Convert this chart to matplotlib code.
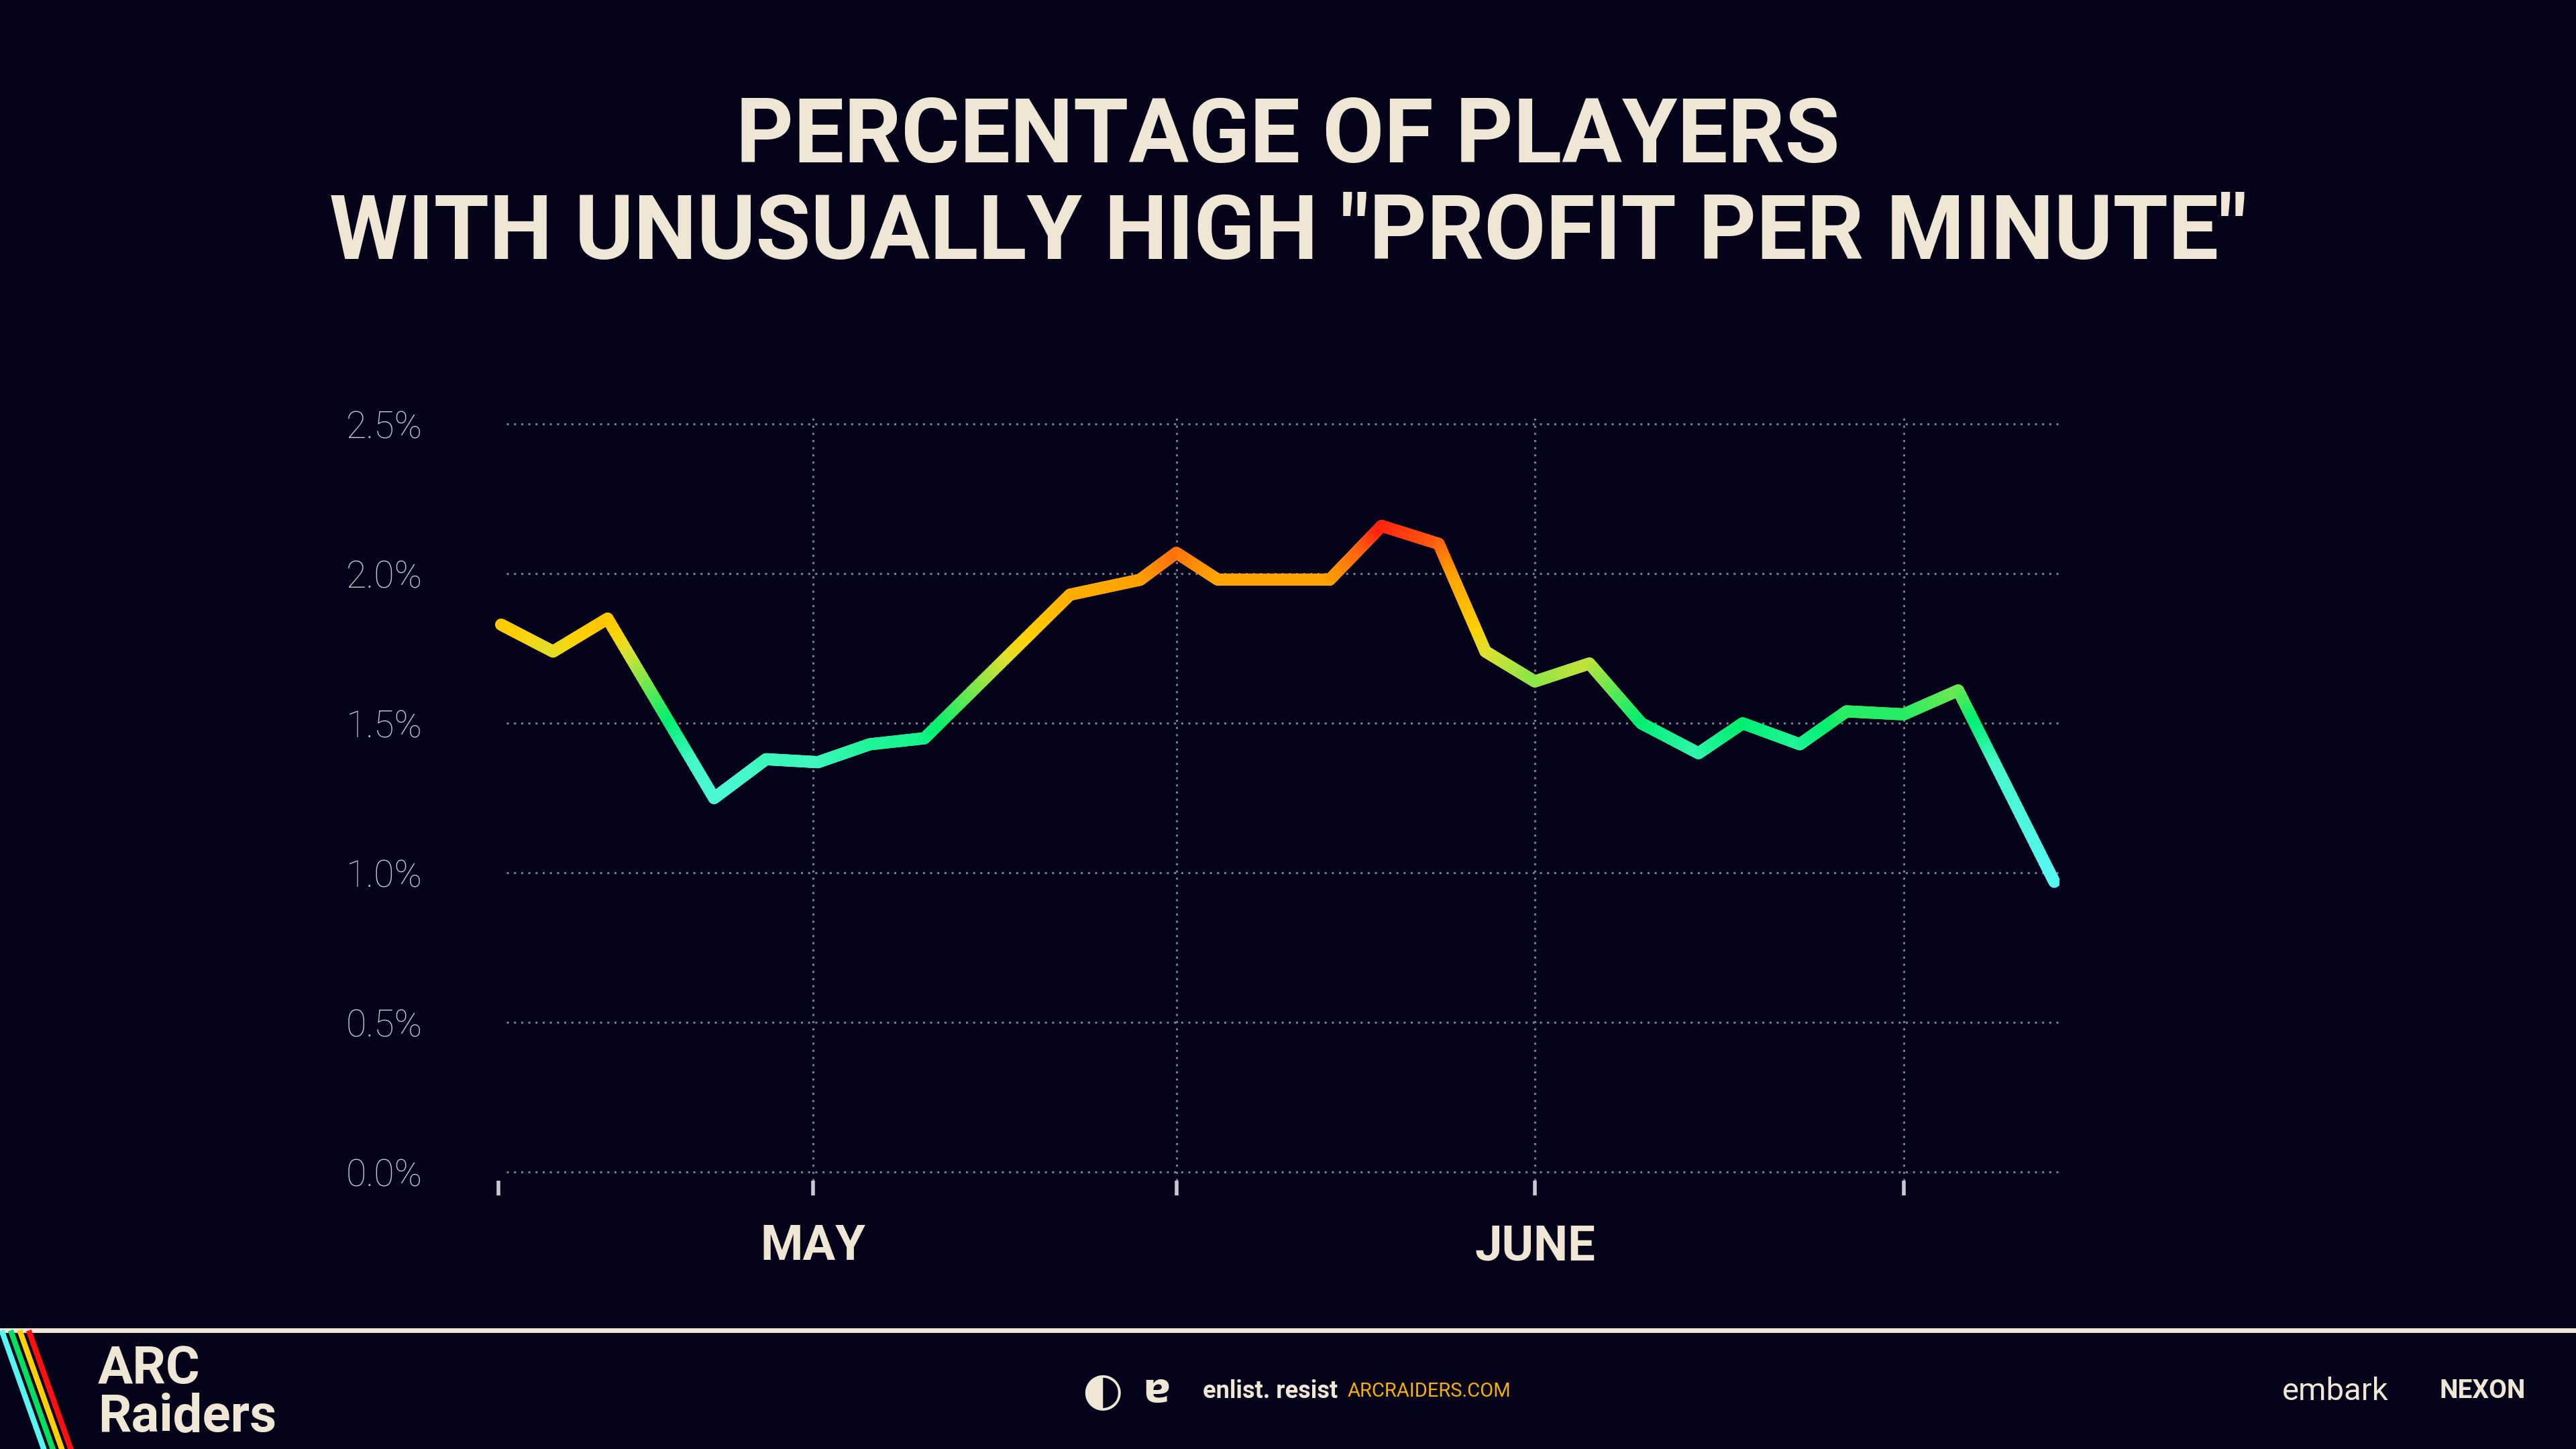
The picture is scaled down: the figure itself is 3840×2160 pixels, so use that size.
import numpy as np
import matplotlib
matplotlib.use("Agg")
import matplotlib.pyplot as plt
from matplotlib.collections import LineCollection
from matplotlib.colors import LinearSegmentedColormap

BG = "#05031a"
CREAM = "#efe6d6"
GRID = "#7d7d8c"

# day offsets from start of series and percentage values
days = [0.0, 1.0, 2.05, 4.1, 5.1, 6.1, 7.1, 8.15, 10.95, 12.3, 13.0, 13.8, 15.95,
        16.95, 18.05, 18.95, 19.9, 20.95, 21.95, 23.05, 23.9, 25.0, 25.9, 27.0, 28.05, 29.9]
values = [1.83, 1.74, 1.85, 1.25, 1.38, 1.37, 1.43, 1.45, 1.93, 1.98, 2.07, 1.98, 1.98,
          2.16, 2.10, 1.74, 1.64, 1.70, 1.50, 1.40, 1.50, 1.43, 1.54, 1.53, 1.61, 0.97]
tick_days = [-0.05, 6.0, 13.0, 19.9, 27.0]
month_labels = {6.0: "MAY", 19.9: "JUNE"}
y_ticks = [0.0, 0.5, 1.0, 1.5, 2.0, 2.5]

fam = ["Roboto", "DejaVu Sans"]

fig = plt.figure(figsize=(38.4, 21.6), dpi=100, facecolor=BG)
ax = fig.add_axes([0.1915, 0.185, 0.608, 0.547], facecolor=BG)

# gradient line coloured by value
cmap = LinearSegmentedColormap.from_list("heat", [
    (0.0, "#55f7f0"), (0.30, "#45f8c8"), (0.42, "#00f070"),
    (0.62, "#e0e030"), (0.68, "#ffd000"), (0.84, "#ffa000"),
    (0.93, "#ff6010"), (1.0, "#ff1010")])
xs, ys = [], []
for i in range(len(days) - 1):
    t = np.linspace(0, 1, 40, endpoint=False)
    xs.extend(days[i] + (days[i + 1] - days[i]) * t)
    ys.extend(values[i] + (values[i + 1] - values[i]) * t)
xs.append(days[-1]); ys.append(values[-1])
xs, ys = np.array(xs), np.array(ys)
pts = np.column_stack([xs, ys]).reshape(-1, 1, 2)
segs = np.concatenate([pts[:-1], pts[1:]], axis=1)
lc = LineCollection(segs, cmap=cmap, norm=plt.Normalize(1.0, 2.18),
                    linewidth=13, capstyle="round", joinstyle="round", zorder=3)
lc.set_array((ys[:-1] + ys[1:]) / 2)
ax.add_collection(lc)

ax.set_xlim(-0.15, 30.0)
ax.set_ylim(-0.03, 2.62)
for y in y_ticks:
    ax.plot([0.1, 30.0], [y, y], color=GRID, lw=2.2, ls=(0, (1, 2.5)), zorder=1)
for d in tick_days[1:]:
    ax.plot([d, d], [-0.03, 2.52], color=GRID, lw=2.2, ls=(0, (1, 2.5)), zorder=1)

ax.set_yticks(y_ticks)
ax.set_yticklabels([f"{y:.1f}%" for y in y_ticks], color="#c4c4cc", fontsize=40,
                   family=fam, fontweight="light")
ax.tick_params(axis="y", length=0, pad=158)
for lab in ax.get_yticklabels():
    lab.set_horizontalalignment("left")
ax.set_xticks(tick_days)
ax.set_xticklabels([month_labels.get(d, "") for d in tick_days], color=CREAM,
                   fontsize=52, fontweight="bold", family=fam)
ax.tick_params(axis="x", length=16, width=4, color="#c8c8d0", pad=30, direction="out")
for s in ax.spines.values():
    s.set_visible(False)

fig.text(0.5, 0.905, "PERCENTAGE OF PLAYERS", ha="center", va="center",
         color=CREAM, fontsize=96, fontweight="bold", family=fam)
fig.text(0.5, 0.838, 'WITH UNUSUALLY HIGH "PROFIT PER MINUTE"', ha="center", va="center",
         color=CREAM, fontsize=96, fontweight="bold", family=fam)

# footer
fig.add_artist(plt.Line2D([0, 1], [0.082, 0.082], color=CREAM, lw=5, transform=fig.transFigure))
for i, c in enumerate(["#55f7f0", "#00e060", "#ffd000", "#ff1010"]):
    x0 = 0.001 + i * 0.0035
    fig.add_artist(plt.Line2D([x0, x0 + 0.016], [0.08, 0.0], color=c, lw=6,
                              transform=fig.transFigure))
fig.text(0.038, 0.055, "ARC", color=CREAM, fontsize=56, fontweight="bold", family=fam, va="center")
fig.text(0.038, 0.022, "Raiders", color=CREAM, fontsize=56, fontweight="bold", family=fam, va="center")
fig.text(0.428, 0.040, "\u25D0", color=CREAM, fontsize=50, va="center", ha="center")
fig.text(0.449, 0.040, "\u0250", color=CREAM, fontsize=44, fontweight="bold", va="center", ha="center")
fig.text(0.467, 0.040, "enlist. resist", color=CREAM, fontsize=26, fontweight="bold",
         family=fam, va="center")
fig.text(0.523, 0.040, "ARCRAIDERS.COM", color="#f5b000", fontsize=21, family=fam, va="center")
fig.text(0.886, 0.040, "embark", color=CREAM, fontsize=34, family=fam, va="center")
fig.text(0.947, 0.040, "NEXON", color=CREAM, fontsize=28, fontweight="bold", family=fam, va="center")

fig.savefig("out.png", dpi=100, facecolor=BG)
